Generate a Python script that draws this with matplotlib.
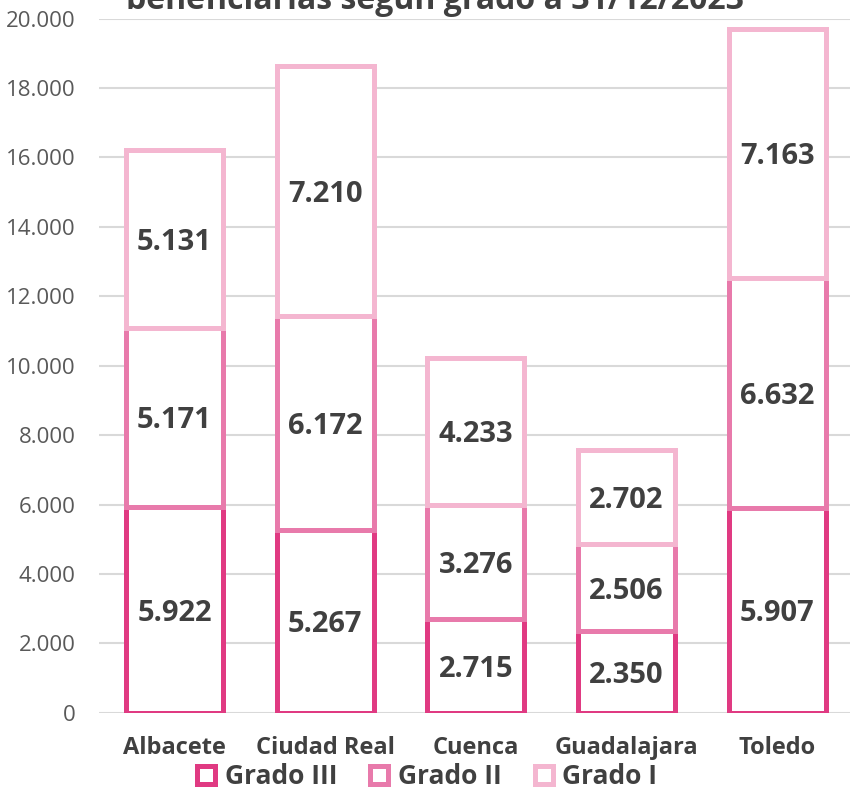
import matplotlib.pyplot as plt
from matplotlib.lines import Line2D
from matplotlib.ticker import FuncFormatter

provincias = ['Albacete', 'Ciudad Real', 'Cuenca', 'Guadalajara', 'Toledo']
grado_iii = [5922, 5267, 2715, 2350, 5907]
grado_ii = [5171, 6172, 3276, 2506, 6632]
grado_i = [5131, 7210, 4233, 2702, 7163]
series = ['Grado III', 'Grado II', 'Grado I']
colores = ['#E03A82', '#E87AAB', '#F4B6D0']
titulo = 'beneficiarias según grado a 31/12/2023'

plt.rcParams['font.family'] = ['Open Sans', 'DejaVu Sans']

def miles(v, pos):
    return f'{int(v):,}'.replace(',', '.')

fig = plt.figure(figsize=(8.5, 7.92), dpi=100)
ax = fig.add_axes([0.1165, 0.1001, 0.8867, 0.8763])

x = range(len(provincias))
base = [0] * len(provincias)
for valores, color in zip([grado_iii, grado_ii, grado_i], colores):
    barras = ax.bar(x, valores, bottom=base, width=0.643, facecolor='white',
                    edgecolor=color, linewidth=3.6, zorder=3)
    for b, v, y0 in zip(barras, valores, base):
        ax.text(b.get_x() + b.get_width() / 2, y0 + v / 2, miles(v, None),
                ha='center', va='center_baseline', fontsize=21, fontweight='bold',
                color='#404040', zorder=4)
    base = [a + b for a, b in zip(base, valores)]

ax.set_xlim(-0.5, 4.5)
ax.set_ylim(0, 20000)
ax.set_yticks(range(0, 20001, 2000))
ax.yaxis.set_major_formatter(FuncFormatter(miles))
ax.set_xticks(list(x))
ax.set_xticklabels(provincias, fontsize=17, fontweight='bold', color='#404040')
ax.tick_params(axis='x', length=0, pad=17)
ax.tick_params(axis='y', length=0, pad=17, labelsize=16, labelcolor='#595959')
ax.grid(axis='y', color='#D9D9D9', linewidth=1.5, zorder=0)
for s in ax.spines.values():
    s.set_visible(False)

handles = [Line2D([], [], marker='s', linestyle='none', markersize=13,
                  markerfacecolor='white', markeredgecolor=c, markeredgewidth=3.6)
           for c in colores]
fig.legend(handles, series, loc='center', bbox_to_anchor=(0.5, 0.019), ncol=3,
           frameon=False, prop={'size': 19, 'weight': 'bold'}, handletextpad=0.2,
           columnspacing=1.1, handlelength=1.0, labelcolor='#404040')

fig.text(435 / 850, 1 - 9 / 792, titulo, ha='center', va='baseline',
         fontsize=23, fontweight='bold', color='#404040')

fig.savefig('out.png', dpi=100)
